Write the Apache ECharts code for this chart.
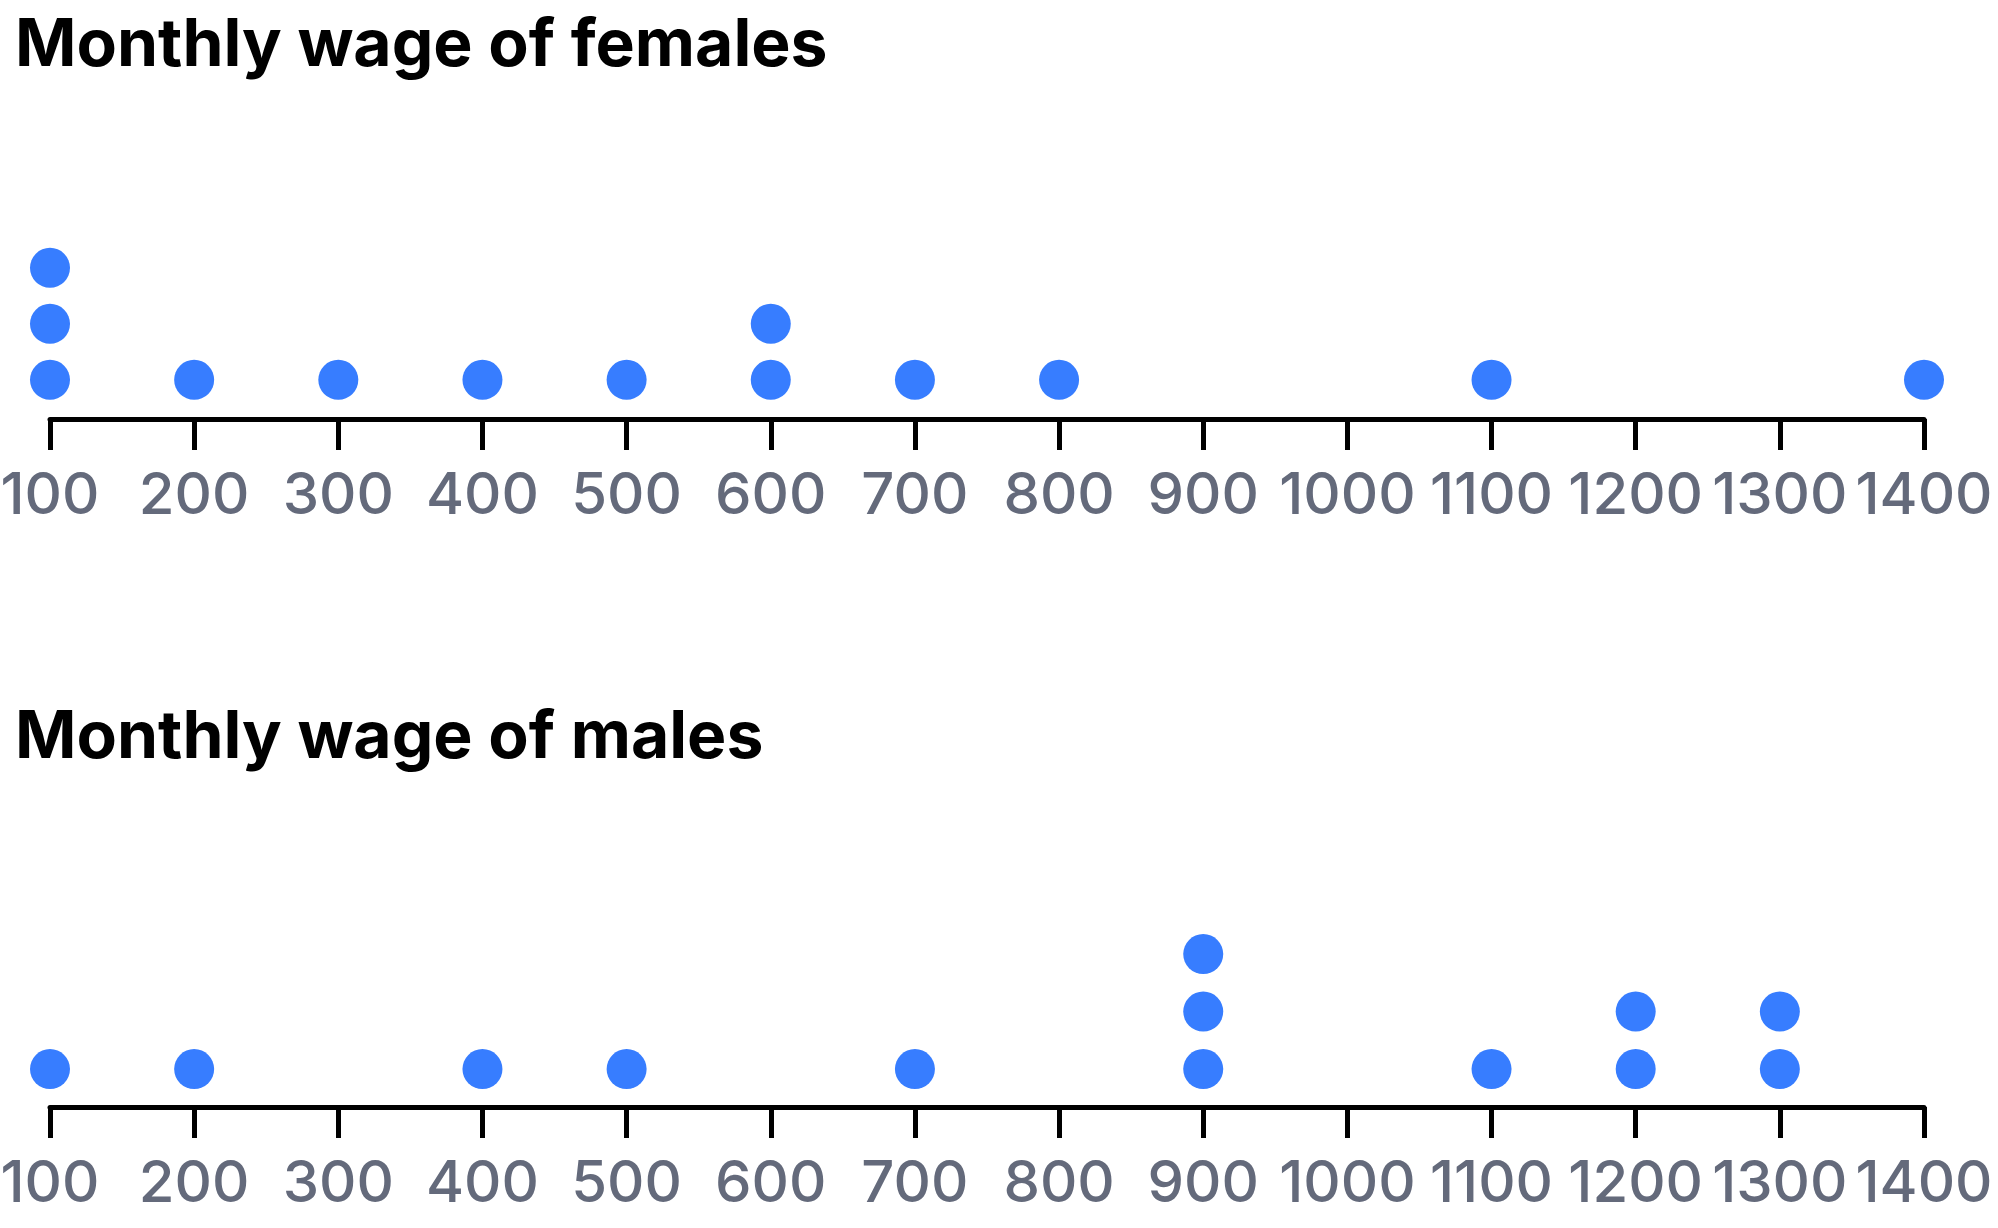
<!DOCTYPE html>
<html>
<head>
<meta charset="utf-8">
<script src="https://cdn.jsdelivr.net/npm/echarts@6/dist/echarts.min.js"></script>
<style>
html,body{margin:0;padding:0;background:#fff;}
#chart{width:1998px;height:1228px;}
</style>
</head>
<body>
<div id="chart"></div>
<script>
// ---- data ----
const titles = ['Monthly wage of females', 'Monthly wage of males'];
const femaleWages = [100, 100, 100, 200, 300, 400, 500, 600, 600, 700, 800, 1100, 1400];
const maleWages = [100, 200, 400, 500, 700, 900, 900, 900, 1100, 1200, 1200, 1300, 1300];
const tickLabels = [100, 200, 300, 400, 500, 600, 700, 800, 900, 1000, 1100, 1200, 1300, 1400];

// stack dots: each repeated value goes one level up
function stackDots(values) {
  const seen = {};
  return values.map(v => {
    seen[v] = (seen[v] || 0) + 1;
    return [v, seen[v]];
  });
}

const FONT = 'Inter';
const DOT = '#377dff';
const LABEL = '#646a7b';

function xAxis(idx) {
  return {
    type: 'value', gridIndex: idx, min: 100, max: 1400, interval: 100,
    axisLine: {show: true, onZero: false, lineStyle: {color: '#000', width: 5}},
    axisTick: {show: true, length: 31, lineStyle: {color: '#000', width: 5}},
    axisLabel: {show: true, margin: 49, color: LABEL, fontFamily: FONT, fontSize: 58, fontWeight: 500,
      hideOverlap: false,
      formatter: v => tickLabels.includes(v) ? String(v) : ''},
    splitLine: {show: false}
  };
}
function yAxis(idx, min, max) {
  return {type: 'value', gridIndex: idx, min: min, max: max, show: false, splitLine: {show: false}};
}

const chart = echarts.init(document.getElementById('chart'), null, {renderer: 'canvas'});
chart.setOption({
  animation: false,
  backgroundColor: '#fff',
  title: [
    {text: titles[0], left: 10, top: 8, textStyle: {fontFamily: FONT, fontSize: 66, fontWeight: 'bold', color: '#000'}},
    {text: titles[1], left: 10, top: 700, textStyle: {fontFamily: FONT, fontSize: 66, fontWeight: 'bold', color: '#000'}}
  ],
  grid: [
    {left: 50, right: 74, top: 195, height: 224, containLabel: false, outerBoundsMode: 'none'},
    {left: 50, right: 74, top: 877, height: 230, containLabel: false, outerBoundsMode: 'none'}
  ],
  xAxis: [xAxis(0), xAxis(1)],
  yAxis: [yAxis(0, 0.3, 4.3), yAxis(1, 0.34, 4.34)],
  series: [
    {type: 'scatter', xAxisIndex: 0, yAxisIndex: 0, symbolSize: 40, itemStyle: {color: DOT, opacity: 1}, data: stackDots(femaleWages)},
    {type: 'scatter', xAxisIndex: 1, yAxisIndex: 1, symbolSize: 40, itemStyle: {color: DOT, opacity: 1}, data: stackDots(maleWages)}
  ]
});
</script>
</body>
</html>
